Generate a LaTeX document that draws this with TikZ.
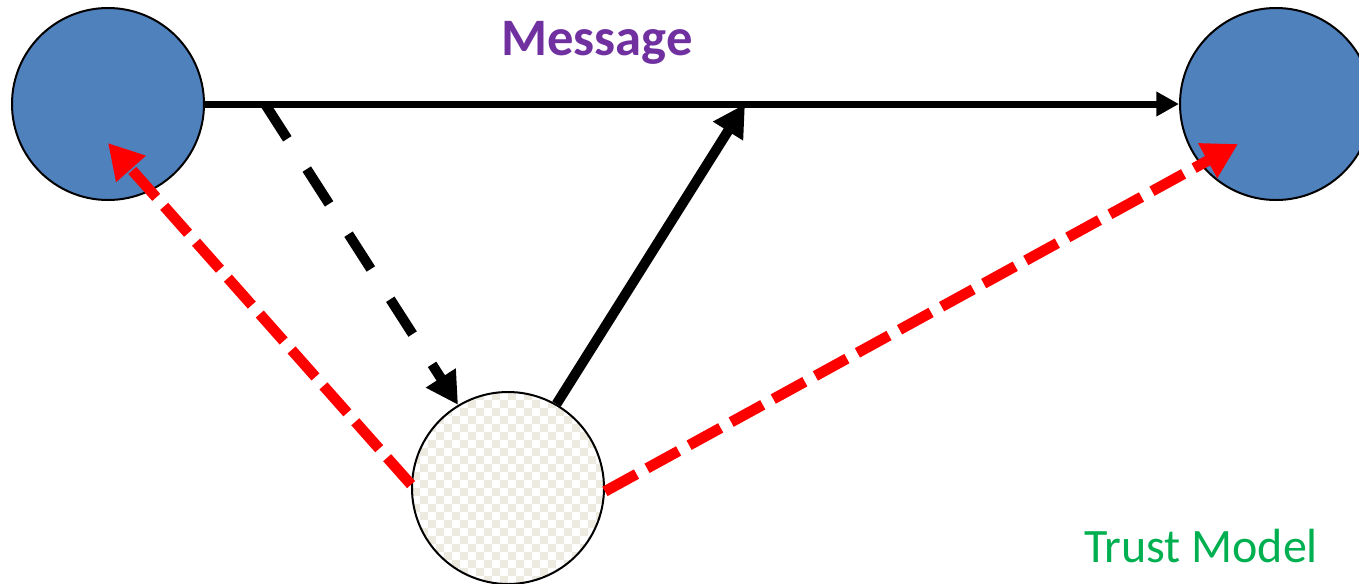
\documentclass[tikz,border=0pt]{standalone}
\usepackage{fontspec}
\newfontfamily\carlito{Carlito}
\usetikzlibrary{arrows.meta}
\definecolor{nodeblue}{HTML}{4F81BD}
\definecolor{checkbeige}{HTML}{EDEADF}
\definecolor{msgpurple}{HTML}{7030A0}
\definecolor{trustgreen}{HTML}{00B050}
\begin{document}
\begin{tikzpicture}[x=0.75pt,y=-0.75pt,
  agent/.style={circle,draw=black,line width=1.5pt,minimum size=144pt,inner sep=0pt},
  msgline/.style={line width=5.25pt,-{Triangle[length=17pt,width=17.5pt]}},
  thickarrow/.style={line width=7.5pt,-{Triangle[length=24pt,width=25pt]}},
  blackdash/.style={thickarrow,dash pattern=on 31pt off 27pt},
  reddash/.style={line width=8pt,draw=red,-{Triangle[length=26pt,width=28pt]},dash pattern=on 27pt off 9pt},
  label/.style={font=\carlito,anchor=base}]
\clip (0,0) rectangle (1359,583);
% checker fill of the middle node
\begin{scope}
  \clip (508,488) circle[radius=72pt];
  \fill[white] (400,380) rectangle (616,596);
  \foreach \i in {-12,-10,...,10}{
    \foreach \j in {-12,-10,...,10}{
      \fill[checkbeige] (508+8*\i,488+8*\j) rectangle ++(8,8);
      \fill[checkbeige] (508+8*\i+8,488+8*\j+8) rectangle ++(8,8);
    }
  }
\end{scope}
\node[agent,fill=nodeblue] (A) at (108,104) {};
\node[agent,fill=nodeblue] (B) at (1276,104) {};
\node[agent] (C) at (508,488) {};
\coordinate (d) at (265,104);
\coordinate (m) at (745,104);
\coordinate (ta) at (108,143);
\coordinate (tb) at (1238,144);
\draw[msgline] (A.east) -- (B.west);
\draw[blackdash] (d) -- (C.121);
\draw[thickarrow] (C.60) -- (m);
\draw[reddash] (C.178) -- (ta);
\draw[reddash] (C.358) -- (tb);
\node[label,font=\carlito\bfseries\fontsize{39.5}{42}\selectfont,text=msgpurple] (msg) at (597,55) {Message};
\node[label,font=\carlito\fontsize{36}{40}\selectfont,text=trustgreen] (tm) at (1201,562) {Trust Model};
\end{tikzpicture}
\end{document}
